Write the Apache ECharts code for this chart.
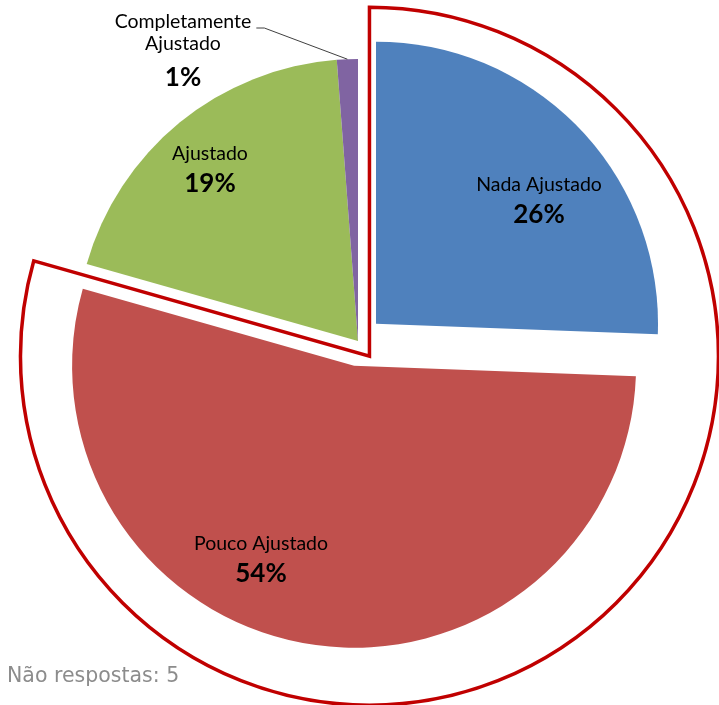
<!DOCTYPE html>
<html><head><meta charset="utf-8">
<script src="https://cdn.jsdelivr.net/npm/echarts@6/dist/echarts.min.js"></script>
<style>html,body{margin:0;padding:0;background:#fff}#c{width:719px;height:705px}</style>
</head><body><div id="c"></div>
<script>
// ---- data (slice shares; labels show rounded %) ----
const categories = ['Nada Ajustado', 'Pouco Ajustado', 'Ajustado', 'Completamente Ajustado'];
const values = [25.6, 53.8, 19.4, 1.2];
const exploded = [true, true, false, false];
const note = 'Não respostas: 5';

// ---- style / layout ----
const colors = ['#4F81BD', '#C0504D', '#9BBB59', '#8064A2'];
const CX = 358, CY = 341, R = 282, OFFSET = 25;
const OUT_R = 349, OUT_OFFSET = 19;
const labelOffsets = [[181, -137], [-97, 222], [-148, -168], [-175, -285]];
const FONT = 'Lato';

const chart = echarts.init(document.getElementById('c'), null, { renderer: 'canvas' });

const mainData = categories.map((name, i) => ({
  name: name,
  value: values[i],
  selected: exploded[i],
  itemStyle: { color: colors[i], borderWidth: 0 },
  select: { itemStyle: { color: colors[i], borderWidth: 0 } }
}));

const labelData = categories.map((name, i) => ({
  name: name,
  value: values[i],
  itemStyle: { color: 'rgba(0,0,0,0)', borderWidth: 0 },
  label: i === 3 ? { position: 'outside' } : { position: 'inside' },
  labelLine: i === 3 ? { show: true, lineStyle: { color: '#404040', width: 1 } } : { show: false }
}));

const highlightData = [
  { name: 'sel', value: values[0] + values[1], selected: true,
    itemStyle: { color: 'rgba(0,0,0,0)', borderColor: '#C00000', borderWidth: 3.5, borderJoin: 'miter' },
    select: { itemStyle: { color: 'rgba(0,0,0,0)', borderColor: '#C00000', borderWidth: 3.5, borderJoin: 'miter' } } },
  { name: 'rest', value: values[2] + values[3], selected: false,
    itemStyle: { color: 'rgba(0,0,0,0)', borderWidth: 0 } }
];

const option = {
  animation: false,
  backgroundColor: '#fff',
  title: {
    text: note, left: 7, top: 666, padding: 0,
    textStyle: { fontFamily: 'DejaVu Sans', fontSize: 20.5, fontWeight: 'normal', color: '#8c8c8c' }
  },
  series: [
    {
      type: 'pie',
      center: [CX, CY],
      radius: [0, R],
      startAngle: 90,
      clockwise: true,
      selectedMode: 'multiple',
      selectedOffset: OFFSET,
      silent: true,
      emphasis: { disabled: true },
      label: { show: false },
      labelLine: { show: false },
      data: mainData
    },
    {
      type: 'pie',
      center: [CX, CY],
      radius: [0, OUT_R],
      startAngle: 90,
      clockwise: true,
      selectedMode: 'multiple',
      selectedOffset: OUT_OFFSET,
      silent: true,
      z: 3,
      emphasis: { disabled: true },
      label: { show: false },
      labelLine: { show: false },
      data: highlightData
    },
    {
      type: 'pie',
      center: [CX, CY],
      radius: [0, R],
      startAngle: 90,
      clockwise: true,
      selectedMode: false,
      silent: true,
      z: 4,
      avoidLabelOverlap: false,
      emphasis: { disabled: true },
      data: labelData,
      label: {
        show: true,
        fontFamily: FONT, fontSize: 19.5, color: '#000', lineHeight: 22, align: 'center',
        formatter: function (p) {
          const nm = p.dataIndex === 3 ? p.name.replace(' ', '\n') : p.name;
          const tag = p.dataIndex === 3 ? 'c' : 'b';
          return nm + '\n{' + tag + '|' + Math.round(p.percent) + '%}';
        },
        rich: {
          b: { fontFamily: FONT, fontSize: 26, fontWeight: 'bold', color: '#000', lineHeight: 38 },
          c: { fontFamily: FONT, fontSize: 26, fontWeight: 'bold', color: '#000', lineHeight: 46 }
        }
      },
      labelLayout: function (p) {
        const i = p.dataIndex;
        const o = labelOffsets[i];
        const x = CX + o[0], y = CY + o[1];
        const res = { x: x, y: y, align: 'center', verticalAlign: 'middle' };
        if (i === 3) {
          const w = p.labelRect.width;
          const sumBefore = values[0] + values[1] + values[2];
          const total = sumBefore + values[3];
          const ang = (90 - (sumBefore + values[3] / 2) / total * 360) * Math.PI / 180;
          const edge = (p.labelLinePoints && p.labelLinePoints[0]) ||
            [CX + R * Math.cos(ang), CY - R * Math.sin(ang)];
          const ly = y - p.labelRect.height / 2 + 17;
          res.labelLinePoints = [edge, [x + w / 2 + 13, ly], [x + w / 2 + 5, ly]];
        }
        return res;
      }
    }
  ]
};
chart.setOption(option);
</script>
</body></html>
